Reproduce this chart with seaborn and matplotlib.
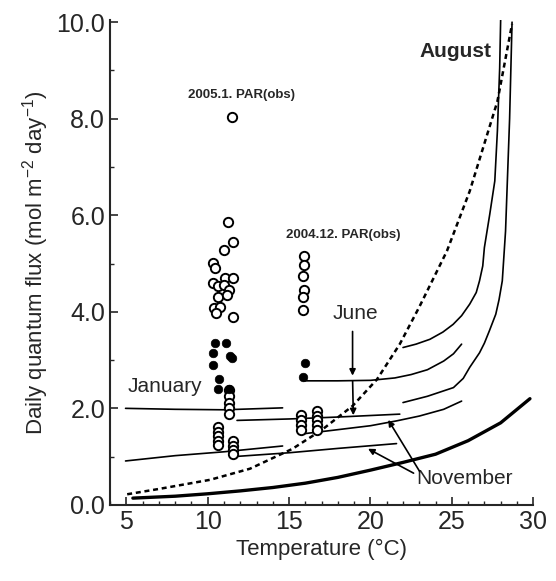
import numpy as np
import pandas as pd
import matplotlib
matplotlib.use("Agg")
import matplotlib.pyplot as plt
from matplotlib.ticker import MultipleLocator, FormatStrFormatter
import seaborn as sns

sns.set_style("ticks")
plt.rcParams['font.family'] = ['Liberation Sans', 'DejaVu Sans']
plt.rcParams['mathtext.default'] = 'regular'

# --- observed PAR, 2005.1 (open / filled) ---
jan_open_x = [11.5, 11.27, 11.58, 11.0, 10.31, 10.45, 11.07, 11.58, 10.35, 10.66, 11.0, 11.33,
              10.66, 11.17, 10.39, 10.76, 11.58, 10.5,
              11.33, 11.33, 11.33, 11.33, 11.33,
              10.66, 10.66, 10.66, 10.66, 10.66,
              11.55, 11.55, 11.55, 11.55]
jan_open_y = [8.03, 5.87, 5.45, 5.27, 5.02, 4.90, 4.69, 4.69, 4.59, 4.53, 4.55, 4.45,
              4.31, 4.35, 4.07, 4.10, 3.89, 3.97,
              2.38, 2.25, 2.12, 2.00, 1.88,
              1.62, 1.52, 1.42, 1.32, 1.24,
              1.32, 1.22, 1.14, 1.06]
jan_fill_x = [10.45, 11.11, 10.35, 11.48, 11.35, 10.35, 10.72, 10.66, 11.33]
jan_fill_y = [3.36, 3.36, 3.14, 3.04, 3.08, 2.90, 2.61, 2.40, 2.40]

# --- observed PAR, 2004.12 ---
dec_open_x = [15.92, 15.92, 15.84, 15.92, 15.88, 15.84,
              15.72, 15.72, 15.72, 15.72,
              16.74, 16.74, 16.74, 16.74, 16.74]
dec_open_y = [5.16, 4.97, 4.74, 4.45, 4.30, 4.04,
              1.86, 1.75, 1.65, 1.55,
              1.95, 1.85, 1.75, 1.65, 1.55]
dec_fill_x = [15.99, 15.88]
dec_fill_y = [2.93, 2.64]

# --- modelled curves ---
jan_hi_x = [4.95, 8.0, 11.0, 14.6]
jan_hi_y = [2.00, 1.98, 1.97, 2.01]
jan_lo_x = [4.95, 8.0, 11.0, 14.6]
jan_lo_y = [0.91, 1.02, 1.10, 1.22]
mid_hi_x = [11.8, 15.0, 18.0, 21.8]
mid_hi_y = [1.75, 1.78, 1.82, 1.88]
mid_lo_x = [11.6, 15.0, 18.0, 21.6]
mid_lo_y = [1.00, 1.08, 1.17, 1.27]
june_x = [15.9, 18.0, 20.0, 21.5, 22.5, 23.5, 24.5, 25.1, 25.6]
june_y = [2.57, 2.57, 2.58, 2.63, 2.70, 2.80, 2.98, 3.13, 3.33]
nov_x = [15.8, 17.3, 20.0, 21.6, 23.0, 24.5, 25.6]
nov_y = [1.47, 1.53, 1.64, 1.74, 1.84, 1.98, 2.15]
aug_a_x = [22.0, 22.8, 23.65, 24.45, 25.08, 25.6, 26.1, 26.5, 26.7, 26.9, 27.0,
           27.33, 27.64, 27.8, 27.94, 28.0]
aug_a_y = [3.26, 3.33, 3.43, 3.58, 3.74, 3.92, 4.16, 4.40, 4.64, 4.95, 5.33,
           6.02, 6.71, 7.75, 9.05, 10.05]
aug_b_x = [22.0, 23.5, 25.1, 25.7, 26.1, 26.4, 26.7, 27.0, 27.3, 27.7, 27.9,
           28.1, 28.3, 28.4, 28.55, 28.7]
aug_b_y = [2.12, 2.25, 2.43, 2.62, 2.85, 3.00, 3.15, 3.35, 3.60, 3.95, 4.25,
           4.64, 5.67, 6.60, 8.00, 10.0]
thick_x = [5.4, 8, 10, 12, 14, 16, 18, 20, 22, 24, 26, 28, 29.8]
thick_y = [0.14, 0.18, 0.23, 0.29, 0.36, 0.45, 0.57, 0.72, 0.88, 1.05, 1.33, 1.70, 2.20]
dash_x = [5.05, 7.0, 10.15, 12.6, 15.2, 17.0, 18.9, 20.4, 21.8, 23.0, 24.7, 26.1, 27.8, 28.7]
dash_y = [0.22, 0.33, 0.52, 0.75, 1.16, 1.55, 2.05, 2.60, 3.33, 4.10, 5.26, 6.50, 8.36, 9.96]

fig = plt.figure(figsize=(5.56, 5.81), dpi=100)
ax = fig.add_axes([0.198, 0.131, 0.761, 0.835])

thin = dict(color='black', lw=1.2, sort=False, estimator=None, ax=ax)
for xs, ys in [(jan_hi_x, jan_hi_y), (jan_lo_x, jan_lo_y), (mid_hi_x, mid_hi_y),
               (mid_lo_x, mid_lo_y), (june_x, june_y), (nov_x, nov_y),
               (aug_a_x, aug_a_y), (aug_b_x, aug_b_y)]:
    sns.lineplot(x=xs, y=ys, **thin)
sns.lineplot(x=thick_x, y=thick_y, color='black', lw=2.4, sort=False, estimator=None, ax=ax)
sns.lineplot(x=dash_x, y=dash_y, color='black', lw=1.8, sort=False, estimator=None, ax=ax,
             linestyle=(0, (2, 1.5)))

sns.scatterplot(x=jan_open_x + dec_open_x, y=jan_open_y + dec_open_y, s=45, marker='o',
                facecolor='white', edgecolor='black', linewidth=1.4, ax=ax, zorder=3)
sns.scatterplot(x=jan_fill_x + dec_fill_x, y=jan_fill_y + dec_fill_y, s=38, marker='o',
                color='black', edgecolor='black', ax=ax, zorder=3)

# labels and arrows
ax.text(12.1, 8.5, "2005.1. PAR(obs)", fontsize=9.5, fontweight='bold', ha='center', va='center')
ax.text(18.3, 5.6, "2004.12. PAR(obs)", fontsize=9.5, fontweight='bold', ha='center', va='center')
ax.text(5.05, 2.45, "January", fontsize=15, ha='left', va='center')
ax.text(23.0, 9.4, "August", fontsize=15, fontweight='bold', ha='left', va='center')
ax.text(19.1, 3.97, "June", fontsize=15, ha='center', va='center')
ax.text(22.8, 0.55, "November", fontsize=15, ha='left', va='center')

arrow = dict(arrowstyle='-|>', color='black', lw=1.2, mutation_scale=9)
ax.annotate("", xy=(18.9, 2.62), xytext=(18.9, 3.65), arrowprops=arrow)
ax.annotate("", xy=(18.95, 1.80), xytext=(18.9, 2.62), arrowprops=arrow)
ax.annotate("", xy=(21.0, 1.81), xytext=(23.1, 0.65), arrowprops=arrow)
ax.annotate("", xy=(19.7, 1.19), xytext=(22.8, 0.63), arrowprops=arrow)

ax.set_xlim(4, 30)
ax.set_ylim(0, 10.05)
ax.xaxis.set_major_locator(MultipleLocator(5))
ax.xaxis.set_minor_locator(MultipleLocator(1))
ax.yaxis.set_major_locator(MultipleLocator(2))
ax.yaxis.set_minor_locator(MultipleLocator(1))
ax.yaxis.set_major_formatter(FormatStrFormatter('%.1f'))
ax.tick_params(which='major', direction='in', length=6, width=1.2, labelsize=18)
ax.tick_params(which='minor', direction='in', length=3, width=1)
for s in ['left', 'bottom']:
    ax.spines[s].set_linewidth(1.5)
sns.despine(ax=ax)

ax.set_xlabel("Temperature (°C)", fontsize=16)
ax.set_ylabel("Daily quantum flux (mol m$^{-2}$ day$^{-1}$)", fontsize=16)

fig.savefig("out.png", dpi=100)
